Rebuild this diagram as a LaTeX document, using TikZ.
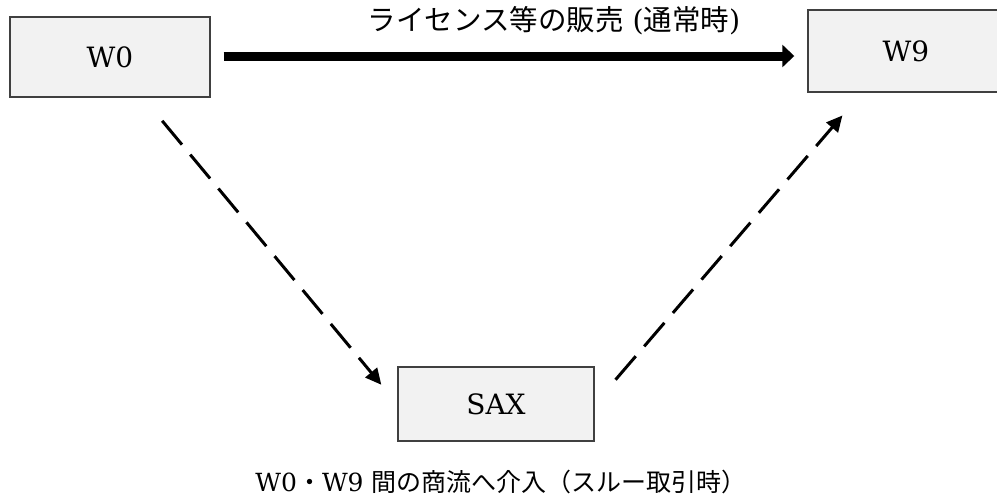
\documentclass[tikz,border=0pt]{standalone}
\usepackage{fontspec}
\setmainfont{DejaVu Serif}
\newfontfamily\cjk{Noto Sans CJK JP}
\usetikzlibrary{arrows.meta}
\definecolor{boxfill}{HTML}{F2F2F2}
\definecolor{boxline}{HTML}{404040}
\begin{document}
\begin{tikzpicture}[x=1pt,y=-1pt,
  entity/.style={draw=boxline, fill=boxfill, line width=1.4pt, inner sep=0pt,
    font=\fontsize{28}{30}\selectfont},
  thickarrow/.style={line width=9pt, -{Triangle[length=12pt,width=22pt]}},
  dasharrow/.style={line width=3pt, dash pattern=on 31pt off 13pt,
    -{Triangle[length=16pt,width=15pt]}},
  caption/.style={inner sep=0pt}]
\useasboundingbox (0,0) rectangle (997,498);
\node[entity, minimum width=200pt, minimum height=80pt] (W0) at (110,57) {W0};
\node[entity, minimum width=196pt, minimum height=82pt] (W9) at (906,51) {W9};
\node[entity, minimum width=196pt, minimum height=74pt] (SAX) at (496,404) {SAX};
\draw[thickarrow, shorten <=13pt, shorten >=13pt] ([yshift=1pt]W0.east) -- ([yshift=1pt]W0.east -| W9.west);
\node[caption, font=\fontsize{28.5}{30}\selectfont] (top) at (554,21) {{\cjk ライセンス等の販売} ({\cjk 通常時})};
\draw[dasharrow, shorten <=30pt, shorten >=25pt] ([xshift=33pt]W0.south) -- (SAX.west);
\draw[dasharrow, shorten <=32pt, shorten >=30pt] (SAX.east) -- ([xshift=-44pt]W9.south);
\node[caption, font=\fontsize{25}{28}\selectfont] (bottom) at (501,482) {W0{\cjk ・}W9 {\cjk 間の商流へ介入（スルー取引時）}};
\end{tikzpicture}
\end{document}
